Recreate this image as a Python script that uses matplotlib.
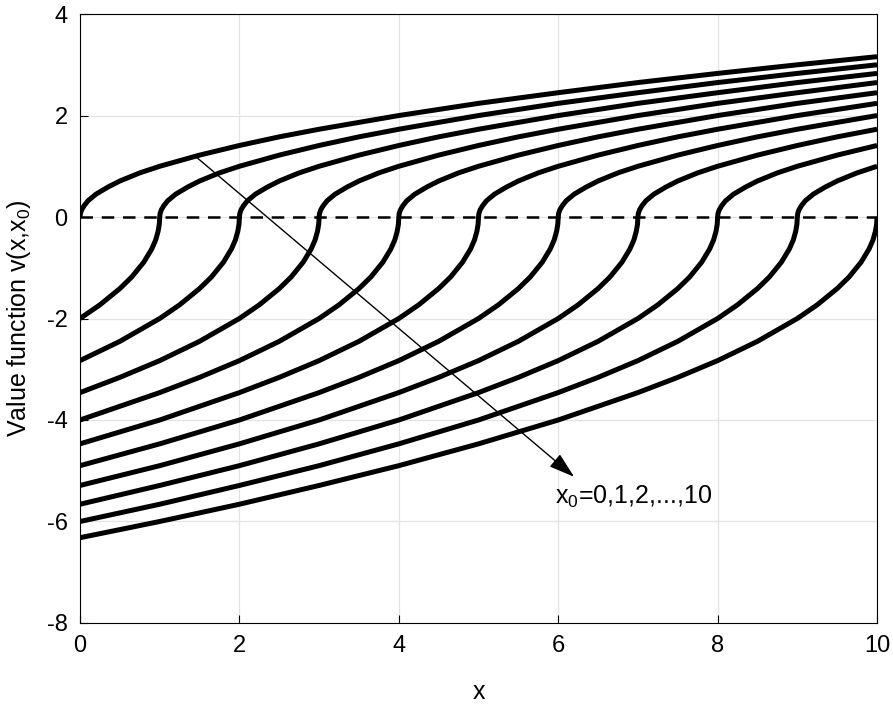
import matplotlib
matplotlib.use("Agg")
import matplotlib.pyplot as plt

plt.rcParams['font.family'] = ['Liberation Sans', 'DejaVu Sans']
plt.rcParams['mathtext.fontset'] = 'custom'
plt.rcParams['mathtext.rm'] = 'Liberation Sans'
plt.rcParams['mathtext.it'] = 'Liberation Sans'
plt.rcParams['axes.unicode_minus'] = False

# starting points of the curves
x0_values = [0, 1, 2, 3, 4, 5, 6, 7, 8, 9, 10]

# curve shape: value vs distance from x0
dist = [0, 0.005, 0.02, 0.05, 0.1, 0.2, 0.35, 0.5, 0.75, 1, 1.5, 2, 2.5, 3, 4, 5, 6, 7, 8, 9, 10]
right_vals = [0, 0.07, 0.14, 0.22, 0.32, 0.45, 0.59, 0.71, 0.87, 1.0, 1.22, 1.41, 1.58, 1.73,
              2.0, 2.24, 2.45, 2.65, 2.83, 3.0, 3.16]
left_vals = [0, -0.14, -0.28, -0.45, -0.63, -0.89, -1.18, -1.41, -1.73, -2.0, -2.45, -2.83,
             -3.16, -3.46, -4.0, -4.47, -4.9, -5.29, -5.66, -6.0, -6.32]

fig = plt.figure(figsize=(8.93, 7.06), dpi=100)
ax = fig.add_axes([0.0896, 0.1176, 0.8925, 0.8625])

for x0 in x0_values:
    xs, ys = [], []
    # left branch (x < x0), drawn from x=0 up to x0
    for d, v in reversed(list(zip(dist, left_vals))):
        if x0 - d >= 0:
            xs.append(x0 - d)
            ys.append(v)
    for d, v in zip(dist[1:], right_vals[1:]):
        if x0 + d <= 10:
            xs.append(x0 + d)
            ys.append(v)
    ax.plot(xs, ys, color='black', lw=3.6, solid_capstyle='butt')

ax.plot([0, 10], [0, 0], 'k--', lw=1.8, dashes=(5, 3.5))

ax.annotate('', xy=(6.2, -5.12), xytext=(1.46, 1.18),
            arrowprops=dict(arrowstyle='-|>,head_length=1.6,head_width=0.5',
                            color='black', lw=1.0, shrinkA=0, shrinkB=0))
ax.text(5.96, -5.52, r'x$_0$=0,1,2,...,10', fontsize=18, ha='left', va='center')

ax.set_xlim(0, 10)
ax.set_ylim(-8, 4)
ax.set_xticks(range(0, 11, 2))
ax.set_yticks(range(-8, 5, 2))
ax.grid(True, color='#e3e3e3', lw=0.9)
ax.set_axisbelow(True)
ax.tick_params(direction='in', labelsize=17, length=6, top=False, right=False, pad=9)
for s in ax.spines.values():
    s.set_linewidth(0.8)
ax.set_xlabel('x', fontsize=18, labelpad=16)
ax.set_ylabel(r'Value function v(x,x$_0$)', fontsize=18, labelpad=10)

fig.savefig('out.png', dpi=100)
